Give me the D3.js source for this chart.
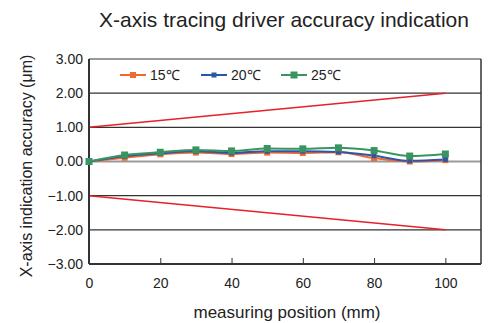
<!DOCTYPE html>
<html><head><meta charset="utf-8">
<script src="https://cdn.jsdelivr.net/npm/d3@7"></script>
<style>body{margin:0;background:#fff}svg{display:block}text{font-family:Arial,"Liberation Sans",sans-serif;fill:#222}</style>
</head><body><svg id="c" width="489" height="323"></svg>
<script>
const positions = [0,10,20,30,40,50,60,70,80,90,100];
const s15 = [0,0.11,0.21,0.26,0.22,0.26,0.25,0.27,0.10,0.00,0.04];
const s20 = [0,0.15,0.24,0.30,0.25,0.30,0.30,0.28,0.17,0.02,0.06];
const s25 = [0,0.19,0.27,0.34,0.31,0.38,0.37,0.40,0.32,0.16,0.22];
const limitX = [0,100];
const upperLimit = [1,2];
const lowerLimit = [-1,-2];
const xTicks = [0,20,40,60,80,100];
const yTicks = [-3,-2,-1,0,1,2,3];
const seriesNames = ["15℃","20℃","25℃"];
const colors = ["#f0692f","#2b57a8","#3a9462"];
const markerSizes = [6,5,7];

const svg = d3.select("#c");
const L=89,R=481,T=59,B=264;
const x = d3.scaleLinear().domain([0,110]).range([L,R]);
const y = d3.scaleLinear().domain([-3,3]).range([B,T]);

// gridlines
yTicks.forEach(v=>{
  if(v===-3) return;
  const col = (v===0||v===3)?"#999":"#333";
  const w = (v===0||v===3)?2:1.2;
  svg.append("line").attr("x1",L).attr("x2",R).attr("y1",y(v)).attr("y2",y(v)).attr("stroke",col).attr("stroke-width",w);
});
// right border
svg.append("line").attr("x1",R).attr("x2",R).attr("y1",T).attr("y2",B).attr("stroke","#333").attr("stroke-width",1.5);

// limit lines
[upperLimit,lowerLimit].forEach(arr=>{
  svg.append("path").datum(limitX.map((p,i)=>[p,arr[i]]))
   .attr("d",d3.line().x(d=>x(d[0])).y(d=>y(d[1])))
   .attr("fill","none").attr("stroke","#e8202a").attr("stroke-width",1.5);
});

// axes
const xAxis = d3.axisBottom(x).tickValues(xTicks).tickSize(-6).tickPadding(14).tickFormat(d3.format("d"));
const gx = svg.append("g").attr("transform",`translate(0,${B})`).call(xAxis);
gx.select(".domain").remove();
gx.append("line").attr("x1",L).attr("x2",R).attr("stroke","#333").attr("stroke-width",2);
gx.selectAll(".tick line").attr("stroke","#333");
gx.selectAll("text").attr("font-size",14).attr("fill","#222").style("font-family","Arial");

const yAxis = d3.axisLeft(y).tickValues(yTicks).tickSize(0).tickPadding(6).tickFormat(d3.format(".2f"));
const gy = svg.append("g").attr("transform",`translate(${L},0)`).call(yAxis);
gy.select(".domain").remove();
gy.append("line").attr("y1",T).attr("y2",B).attr("stroke","#333").attr("stroke-width",2);
gy.selectAll("text").attr("font-size",14).attr("fill","#222").style("font-family","Arial");

// series
const allSeries=[s15,s20,s25];
const line = d3.line().x(d=>x(d[0])).y(d=>y(d[1])).curve(d3.curveMonotoneX);
allSeries.forEach((s,i)=>{
  const pts = positions.map((p,j)=>[p,s[j]]);
  svg.append("path").datum(pts).attr("d",line).attr("fill","none").attr("stroke",colors[i]).attr("stroke-width",2);
});
allSeries.forEach((s,i)=>{
  const m=markerSizes[i];
  svg.append("g").selectAll("rect").data(positions.map((p,j)=>[p,s[j]])).join("rect")
   .attr("x",d=>x(d[0])-m/2).attr("y",d=>y(d[1])-m/2).attr("width",m).attr("height",m).attr("fill",colors[i]);
});

// legend
const legX=[120,201,281];
seriesNames.forEach((n,i)=>{
  const g=svg.append("g").attr("transform",`translate(${legX[i]},75)`);
  g.append("line").attr("x1",0).attr("x2",26).attr("stroke",colors[i]).attr("stroke-width",2);
  const m=markerSizes[i];
  g.append("rect").attr("x",13-m/2).attr("y",-m/2).attr("width",m).attr("height",m).attr("fill",colors[i]);
  g.append("text").attr("x",30).attr("y",5).attr("font-size",14).text(n);
});

// title & labels
svg.append("text").attr("x",284).attr("y",27).attr("text-anchor","middle").attr("font-size",21).text("X-axis tracing driver accuracy indication");
svg.append("text").attr("x",287).attr("y",318).attr("text-anchor","middle").attr("font-size",17).text("measuring position (mm)");
svg.append("text").attr("transform","translate(32,166) rotate(-90)").attr("text-anchor","middle").attr("font-size",16).text("X-axis indication accuracy (μm)");
</script></body></html>
